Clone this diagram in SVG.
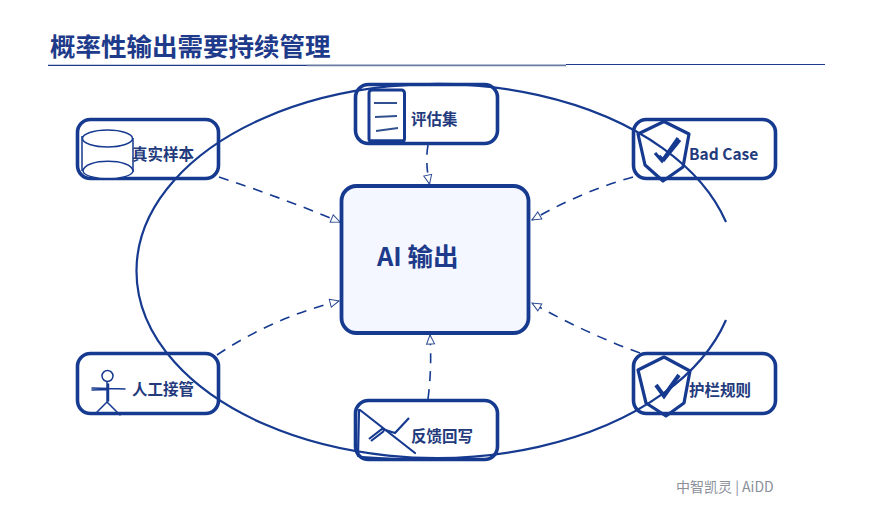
<svg xmlns="http://www.w3.org/2000/svg" width="870" height="522" viewBox="0 0 870 522">
<style>
text{font-family:"Noto Sans CJK SC","Noto Sans",sans-serif;fill:#1e3a8a}
.t{font-size:15.500px;font-weight:700;fill:#233a7c}
.box{fill:none;stroke:#163a90;stroke-width:3.600}
.ic{fill:none;stroke:#163a90;stroke-width:2.200;stroke-linejoin:round;stroke-linecap:round}
.th{fill:none;stroke:#163a90;stroke-width:3.200;stroke-linejoin:round}
.c{fill:none;stroke:#163a90;stroke-width:1.600;stroke-dasharray:10 8;marker-end:url(#a)}
</style>
<defs>
<marker id="a" markerUnits="userSpaceOnUse" markerWidth="12" markerHeight="11" refX="10" refY="5" orient="auto" viewBox="0 0 12 10">
<path d="M1 1L10 5L1 9Z" fill="#fff" stroke="#2d4a92" stroke-width="1"/>
</marker>
</defs>
<rect width="870" height="522" fill="#fff"/>
<text x="50" y="56" style="font-size:25.500px;font-weight:700">概率性输出需要持续管理</text>
<path d="M48 65.300H307" stroke="#1e3a8a" stroke-width="1.300" fill="none"/>
<path d="M307 65.300H566" stroke="#6a7ba5" stroke-width="1.800" fill="none"/>
<path d="M566 64.500H825" stroke="#1e3a8a" stroke-width="1.200" fill="none"/>
<g id="connectors">
<path class="c" d="M219 177Q280 197 340 222"/>
<path class="c" d="M428 145Q425 162 429.500 184"/>
<path class="c" d="M633 177Q580 192 532 220"/>
<path class="c" d="M640 353Q585 333 532 303"/>
<path class="c" d="M428 399Q432 368 430 335"/>
<path class="c" d="M217 355Q272 318 339 301"/>
</g>
<g id="center">
<rect x="341.500" y="186" width="187" height="147" rx="15" fill="#f4f7ff" stroke="#163a90" stroke-width="3.800"/>
<text x="377" y="266" style="font-size:25.500px;font-weight:700">AI 输出</text>
</g>
<g id="real-samples">
<rect class="box" x="77.500" y="119.500" width="141" height="59" rx="13"/>
<path d="M82 136V171M133 138V172" fill="none" stroke="#163a90" stroke-width="1.500"/>
<ellipse cx="107.500" cy="138.500" rx="25" ry="8.500" fill="#fff" stroke="#163a90" stroke-width="1.500"/>
<path d="M83 171C84 158 132 158 133 171C132 181 84 181 83 171Z" fill="#fff" stroke="#163a90" stroke-width="1.500"/>
<text class="t" x="132" y="160">真实样本</text>
</g>
<g id="eval-set">
<rect class="box" x="355.500" y="84.500" width="142" height="59" rx="13"/>
<rect x="369" y="90" width="35.500" height="52" rx="3" fill="#fff" stroke="#163a90" stroke-width="3"/>
<path d="M369 141H404" stroke="#163a90" stroke-width="3.500" fill="none"/>
<path d="M374 103L397 103M375 117L397 116M376 131L398 128" stroke="#31508f" stroke-width="1.800" fill="none"/>
<text class="t" x="411" y="125">评估集</text>
</g>
<g id="bad-case">
<rect class="box" x="633.500" y="119.500" width="142" height="59" rx="13"/>
<path class="th" d="M664 121.500L689 134L683 167L663 181L645 165L638 134Z"/>
<path d="M655 153L662 161L678 138M659 156L663 160M663 161L680 140" fill="none" stroke="#163a90" stroke-width="3.200"/>
<text class="t" x="689" y="160">Bad Case</text>
</g>
<g id="guardrails">
<rect class="box" x="633.500" y="353.500" width="142" height="60" rx="13"/>
<path class="th" d="M664 357L690 371L684 403L666 416L646 403L638 370Z"/>
<path d="M656 385L664 396L679 375" fill="none" stroke="#163a90" stroke-width="4"/>
<text class="t" x="689" y="396">护栏规则</text>
</g>
<g id="human">
<rect class="box" x="77.500" y="353.500" width="141" height="60" rx="13"/>
<circle cx="107.500" cy="376" r="5.500" fill="none" stroke="#163a90" stroke-width="1.500"/>
<path class="ic" style="stroke-width:1.500" d="M92 388L125 389M92 390L108 389.500M107 382V402M108.500 384V401M97 412L107 402L120 415"/>
<text class="t" x="132" y="395">人工接管</text>
</g>
<g id="feedback">
<rect class="box" x="355.500" y="400.500" width="142" height="59" rx="13"/>
<path class="ic" d="M360 410L415 453M359 410L358 456M362 457L395 459"/>
<path d="M369 439L382 429L395 433L409 418M371 441L384 431" fill="none" stroke="#163a90" stroke-width="2.200"/>
<text class="t" x="411" y="442">反馈回写</text>
</g>
<g id="loop">
<path d="M726 222A300 187 0 1 0 726 320" fill="none" stroke="#163a90" stroke-width="2.200"/>
</g>
<text x="676" y="492" style="font-size:14px;fill:#8a8f9a">中智凯灵 | AiDD</text>
</svg>
